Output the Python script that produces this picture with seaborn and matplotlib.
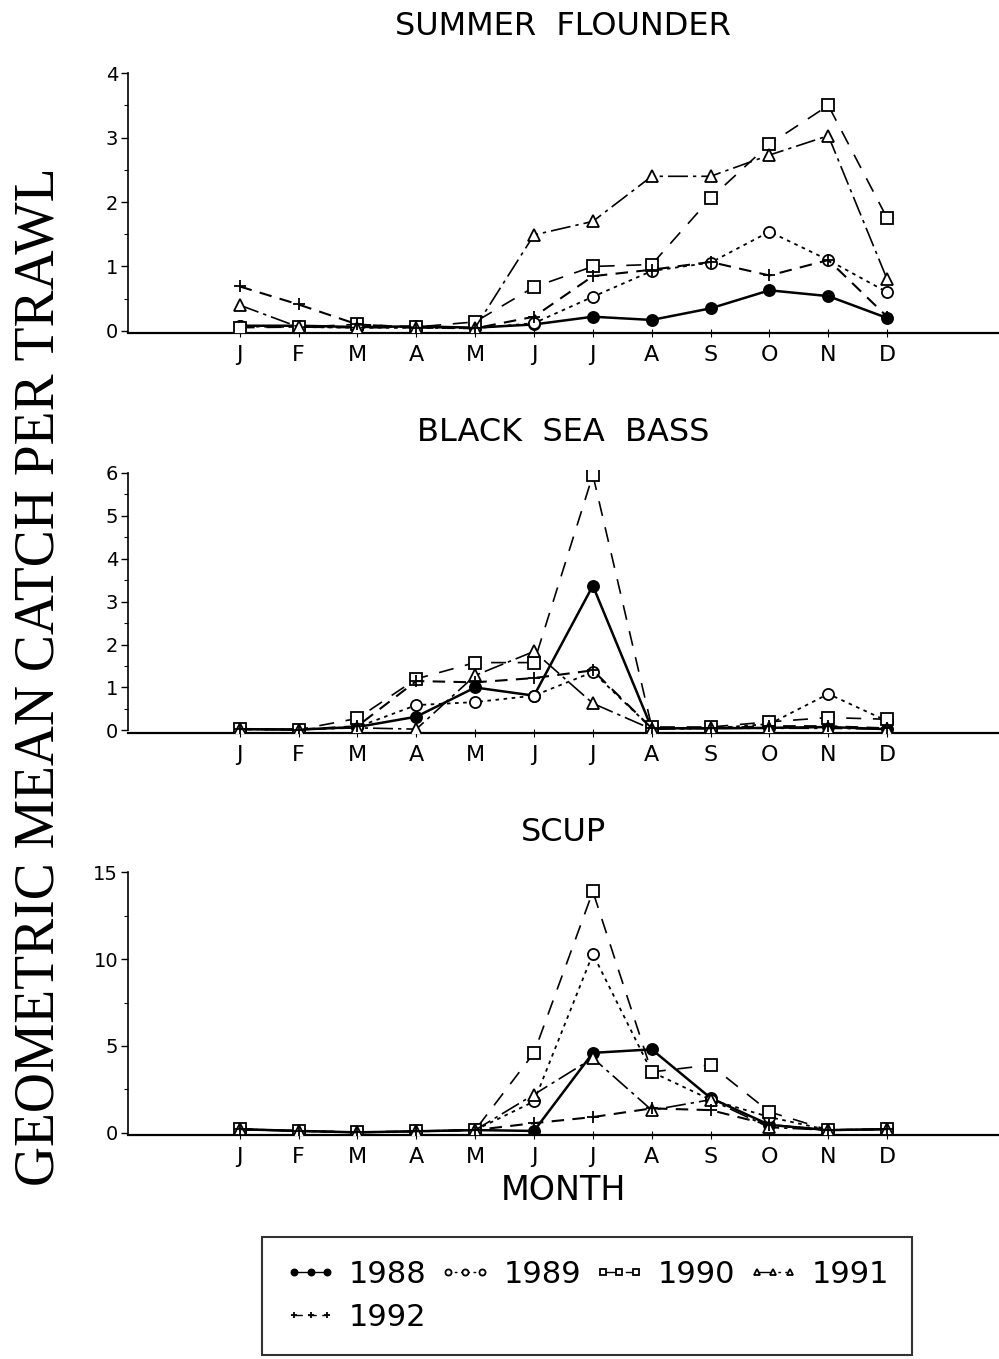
import numpy as np
import pandas as pd
import matplotlib
matplotlib.use("Agg")
import matplotlib.pyplot as plt
import seaborn as sns
from matplotlib.ticker import MultipleLocator

sns.set_theme(style="white")
plt.rcParams['font.family'] = ['DejaVu Sans']
plt.rcParams['text.color'] = 'black'
plt.rcParams['axes.labelcolor'] = 'black'
plt.rcParams['xtick.color'] = 'black'
plt.rcParams['ytick.color'] = 'black'

months = list(range(1, 13))
month_labels = ['J', 'F', 'M', 'A', 'M', 'J', 'J', 'A', 'S', 'O', 'N', 'D']
years = ['1988', '1989', '1990', '1991', '1992']

flounder_1988 = [0.08, 0.08, 0.06, 0.07, 0.05, 0.10, 0.22, 0.17, 0.35, 0.63, 0.54, 0.20]
flounder_1989 = [0.07, 0.06, 0.05, 0.05, 0.04, 0.12, 0.53, 0.93, 1.06, 1.54, 1.10, 0.60]
flounder_1990 = [0.05, 0.06, 0.10, 0.06, 0.14, 0.68, 1.00, 1.03, 2.06, 2.90, 3.50, 1.75]
flounder_1991 = [0.40, 0.06, 0.05, 0.05, 0.05, 1.49, 1.70, 2.40, 2.40, 2.73, 3.03, 0.80]
flounder_1992 = [0.69, 0.41, 0.10, 0.05, 0.04, 0.22, 0.85, 0.95, 1.07, 0.86, 1.10, 0.22]

bass_1988 = [0.03, 0.02, 0.08, 0.32, 1.00, 0.81, 3.37, 0.05, 0.05, 0.06, 0.08, 0.03]
bass_1989 = [0.03, 0.02, 0.08, 0.59, 0.66, 0.81, 1.36, 0.05, 0.05, 0.15, 0.85, 0.22]
bass_1990 = [0.03, 0.02, 0.28, 1.20, 1.58, 1.58, 5.95, 0.08, 0.08, 0.20, 0.30, 0.26]
bass_1991 = [0.03, 0.02, 0.06, 0.03, 1.28, 1.84, 0.63, 0.03, 0.05, 0.05, 0.05, 0.03]
bass_1992 = [0.03, 0.02, 0.10, 1.15, 1.12, 1.22, 1.40, 0.05, 0.05, 0.10, 0.10, 0.05]

scup_1988 = [0.20, 0.10, 0.02, 0.08, 0.15, 0.10, 4.60, 4.80, 2.00, 0.45, 0.15, 0.20]
scup_1989 = [0.20, 0.10, 0.02, 0.08, 0.15, 1.80, 10.30, 3.50, 1.90, 0.90, 0.15, 0.20]
scup_1990 = [0.20, 0.10, 0.02, 0.08, 0.15, 4.60, 13.90, 3.50, 3.90, 1.20, 0.15, 0.20]
scup_1991 = [0.20, 0.10, 0.02, 0.08, 0.15, 2.20, 4.30, 1.30, 1.90, 0.30, 0.15, 0.20]
scup_1992 = [0.20, 0.10, 0.02, 0.08, 0.15, 0.55, 0.90, 1.40, 1.30, 0.45, 0.15, 0.20]

panels = [
    ("SUMMER  FLOUNDER", [flounder_1988, flounder_1989, flounder_1990, flounder_1991, flounder_1992], 4, 1, 0.5),
    ("BLACK  SEA  BASS", [bass_1988, bass_1989, bass_1990, bass_1991, bass_1992], 6, 1, 0.5),
    ("SCUP", [scup_1988, scup_1989, scup_1990, scup_1991, scup_1992], 15, 5, 2.5),
]

styles = {
    '1988': dict(marker='o', mfc='black', ls='-', lw=1.8, ms=8),
    '1989': dict(marker='o', mfc='white', ls=(0, (2, 2.5)), lw=1.3, ms=8),
    '1990': dict(marker='s', mfc='white', ls=(0, (9, 7)), lw=1.2, ms=8),
    '1991': dict(marker='^', mfc='white', ls=(0, (12, 3, 2, 3)), lw=1.2, ms=8),
    '1992': dict(marker='+', mfc='none', ls=(0, (6, 4)), lw=1.5, ms=9),
}

fig = plt.figure(figsize=(9.99, 13.59), dpi=100)
rects = [
    [0.128, 0.755, 0.872, 0.193],
    [0.128, 0.461, 0.872, 0.193],
    [0.128, 0.165, 0.872, 0.195],
]
title_pads = [26, 21, 21]

handles = {}
for (title, series, ymax, major, minor), rect, tpad in zip(panels, rects, title_pads):
    ax = fig.add_axes(rect)
    ax.set_facecolor('white')
    for yr, vals in zip(years, series):
        df = pd.DataFrame({'month': months, 'value': vals})
        st = styles[yr]
        sns.lineplot(data=df, x='month', y='value', ax=ax, color='black',
                     marker=st['marker'], markerfacecolor=st['mfc'],
                     markeredgecolor='black', markeredgewidth=1.3,
                     linestyle=st['ls'], linewidth=st['lw'], markersize=st['ms'],
                     label=yr, legend=False, zorder=3)
        handles[yr] = ax.lines[-1]
    ax.set_xlim(-0.9, 13.9)
    ax.set_ylim(-ymax * 0.008, ymax * 1.01)
    ax.set_xticks(months)
    ax.set_xticklabels(month_labels, fontsize=16)
    ax.yaxis.set_major_locator(MultipleLocator(major))
    ax.yaxis.set_minor_locator(MultipleLocator(minor))
    ax.tick_params(axis='y', which='major', direction='out', length=5, width=1, labelsize=14, pad=2, left=True)
    ax.tick_params(axis='y', which='minor', direction='out', length=3, width=0.8, left=True)
    ax.tick_params(axis='x', which='major', direction='inout', length=6, width=0.8, pad=6, bottom=True)
    for sp in ['top', 'right']:
        ax.spines[sp].set_visible(False)
    ax.spines['left'].set_color('black')
    ax.spines['left'].set_linewidth(1.2)
    ax.spines['left'].set_bounds(0, ymax)
    ax.spines['bottom'].set_color('black')
    ax.spines['bottom'].set_linewidth(1.6)
    ax.set_xlabel('')
    ax.set_ylabel('')
    ax.set_title(title, fontsize=23, pad=tpad, color='black')
    if title == 'SCUP':
        ax.set_xlabel('MONTH', fontsize=24, labelpad=5)

fig.text(0.04, 0.502, 'GEOMETRIC MEAN CATCH PER TRAWL', rotation=90,
         ha='center', va='center', fontsize=40, color='black',
         family=['Liberation Serif', 'DejaVu Serif'])

order = ['1988', '1992', '1989', '1990', '1991']
leg = fig.legend([handles[y] for y in order], order, ncol=4,
                 loc='upper left', bbox_to_anchor=(0.262, 0.0, 0.651, 0.0898),
                 mode='expand', frameon=True, fancybox=False, edgecolor='black',
                 prop={'size': 22}, numpoints=3, borderaxespad=0,
                 handlelength=1.7, borderpad=0.75, labelspacing=0.45, handletextpad=0.4,
                 columnspacing=0.8, markerscale=0.55)
leg.get_frame().set_linewidth(1.5)
for h in leg.legend_handles:
    h.set_linewidth(1.0)

fig.savefig('out.png', dpi=100, facecolor='white')
